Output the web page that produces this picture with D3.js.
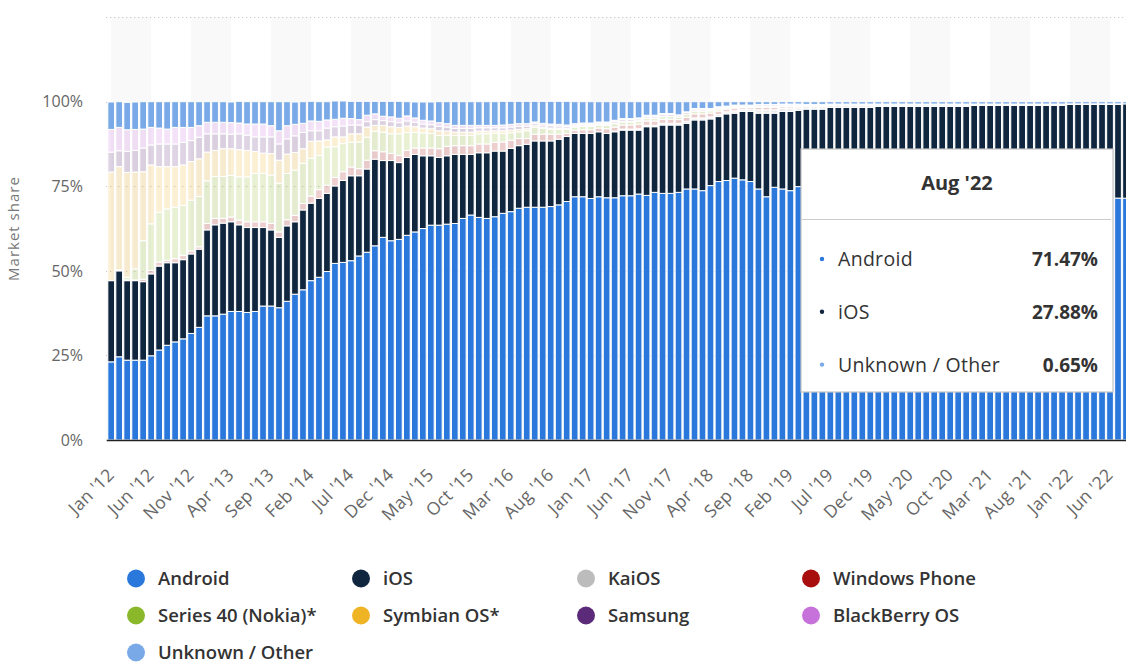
<!DOCTYPE html>
<html>
<head>
<meta charset="utf-8">
<script src="https://cdn.jsdelivr.net/npm/d3@7"></script>
<style>
  body { margin: 0; background: #fff; }
  svg { display: block; font-family: "Open Sans", sans-serif; }
</style>
</head>
<body>
<svg id="chart" width="1126" height="664"></svg>
<script>
// monthly market share (%), Jan 2012 - Aug 2022
const android = [23.1,24.6,23.6,23.6,23.6,24.9,26.6,28.0,29.0,29.9,31.5,33.3,
  36.7,36.7,37.2,38.0,38.0,37.7,38.0,39.6,39.6,39.1,41.0,43.1,
  44.4,47.1,48.1,49.8,52.2,52.5,53.0,54.4,55.5,57.4,59.9,58.9,
  59.3,60.5,61.5,62.5,63.5,63.5,63.8,64.0,65.5,66.5,65.8,65.5,
  66.0,67.0,67.5,68.5,68.8,68.8,68.8,69.0,69.5,70.5,71.9,71.9,
  71.4,71.9,71.6,71.6,72.2,72.2,72.7,72.3,73.2,72.9,72.9,73.2,
  74.2,74.2,73.7,75.2,76.4,76.7,77.4,76.9,76.4,74.2,71.9,74.7,
  74.2,73.7,74.9,75.0,75.3,75.5,76.1,76.2,76.7,76.2,75.9,75.5,
  74.3,73.3,72.6,72.8,72.6,74.6,74.6,74.3,74.4,73.4,71.2,71.9,
  71.9,71.6,72.2,72.2,72.8,72.8,72.8,72.8,72.8,71.3,70.2,69.7,
  69.7,69.7,71.6,71.5,71.7,71.9,71.5,71.47];
const ios = [24.0,25.4,23.5,23.5,23.2,24.2,24.8,24.4,23.4,23.4,23.5,23.1,
  25.4,26.9,26.9,26.5,25.6,25.1,24.8,23.2,22.5,20.8,22.3,21.4,
  23.6,22.9,23.3,23.1,22.9,24.2,25.1,23.7,24.6,25.6,22.7,23.7,
  22.7,23.0,22.9,21.5,20.5,20.0,20.2,20.4,18.9,17.9,19.1,19.4,
  19.4,18.4,18.7,18.5,18.6,19.6,19.6,19.4,19.4,19.2,18.7,18.7,
  19.2,19.2,19.0,19.5,19.4,19.4,18.9,20.3,19.4,20.2,20.2,19.9,
  19.4,20.4,20.9,19.7,19.2,19.7,19.2,20.2,20.7,22.4,24.7,21.9,
  22.9,23.4,22.5,22.8,22.5,22.3,22.2,22.1,21.6,22.1,22.4,22.8,
  24.3,25.3,26.0,25.8,26.0,24.0,24.0,24.3,24.2,25.2,27.4,26.7,
  27.0,27.3,26.7,26.7,26.1,26.1,26.1,26.1,26.1,27.6,28.7,29.2,
  29.5,29.5,27.6,27.7,27.5,27.3,27.7,27.88];
const kaios = [0,0,0,0,0,0,0,0,0,0,0,0,
  0,0,0,0,0,0,0,0,0,0,0,0,
  0,0,0,0,0,0,0,0,0,0,0,0,
  0,0,0,0,0,0,0,0,0,0,0,0,
  0,0,0,0,0,0,0,0,0,0,0,0,
  0,0,0,0.2,0.3,0.3,0.4,0.4,0.4,0.5,0.5,0.5,
  0.6,0.6,0.6,0.6,0.6,0.6,0.7,0.7,0.7,1.0,1.0,1.0,
  0.9,0.9,0.8,0.8,0.8,0.8,0.6,0.6,0.6,0.6,0.6,0.6,
  0.5,0.5,0.5,0.5,0.5,0.5,0.5,0.5,0.5,0.5,0.5,0.5,
  0.3,0.3,0.3,0.3,0.3,0.3,0.3,0.3,0.3,0.3,0.3,0.3,
  0.15,0.15,0.15,0.15,0.15,0.15,0.15,0];
const windowsPhone = [0.1,0.1,0.2,0.2,0.7,1.0,1.2,0.7,1.2,1.3,0.9,0.7,
  1.9,1.9,1.4,1.4,1.4,1.7,1.7,1.7,1.9,1.6,1.8,1.9,
  1.9,2.1,2.6,2.4,2.5,2.6,2.6,2.1,2.6,2.5,2.6,2.1,
  2.1,2.1,1.9,2.3,2.3,2.6,2.8,2.6,2.6,2.6,2.6,2.6,
  2.6,2.7,2.4,2.1,1.7,2.0,2.0,2.0,1.5,0.9,0.9,1.1,
  1.1,1.1,1.4,1.2,1.2,1.2,1.3,1.3,1.3,1.2,1.2,1.1,
  1.2,1.2,1.2,1.1,1.0,0.8,0.8,0.5,0.5,0.7,0.7,0.7,
  0.5,0.5,0.4,0.2,0.2,0.2,0.1,0.1,0.1,0.1,0.1,0.1,
  0.1,0.1,0.1,0.1,0.1,0.1,0.1,0.1,0.1,0.1,0.1,0.1,
  0,0,0,0,0,0,0,0,0,0,0,0,
  0,0,0,0,0,0,0,0];
const series40 = [0,0.2,0.8,3.3,11.4,13.8,14.7,15.2,15.2,14.7,15.0,14.9,
  12.6,12.4,12.4,12.3,12.8,13.3,14.3,14.3,14.3,14.4,13.7,13.4,
  11.9,11.2,10.1,11.3,9.1,8.3,7.3,7.9,6.8,5.8,5.8,5.8,
  6.4,5.3,4.6,4.5,4.3,3.9,3.3,3.0,3.0,3.0,3.0,3.0,
  2.7,2.5,2.2,2.0,2.3,2.0,1.7,1.4,1.4,1.2,1.0,1.0,
  1.0,0.8,1.0,1.0,0.9,0.9,0.9,0.8,0.8,0.8,0.8,0.7,
  0.8,0.8,0.8,0.7,0.6,0.4,0.4,0.3,0.3,0.4,0.4,0.4,
  0.3,0.3,0.3,0.1,0.1,0.1,0.1,0.1,0.1,0.1,0.1,0.1,
  0,0,0,0,0,0,0,0,0,0,0,0,
  0,0,0,0,0,0,0,0,0,0,0,0,
  0,0,0,0,0,0,0,0];
const symbian = [32.0,30.5,31.0,28.6,20.4,17.4,13.5,12.5,12.0,12.0,11.4,11.1,
  8.5,7.7,8.2,7.9,8.0,7.8,6.5,6.0,6.4,6.8,5.7,5.2,
  4.3,5.0,4.3,2.1,2.9,2.0,2.5,2.4,3.0,1.7,2.0,2.1,
  1.9,1.9,1.7,1.4,1.4,1.4,1.2,1.0,1.0,1.0,0.8,0.8,
  0.7,0.8,0.8,0.7,0.6,0.5,0.4,0.4,0.4,0.3,0.2,0.2,
  0.2,0.2,0.2,0.2,0.2,0.2,0.2,0.1,0.1,0.1,0.1,0.1,
  0.1,0.1,0.1,0.1,0.1,0.1,0.1,0,0,0,0,0,
  0,0,0,0,0,0,0,0,0,0,0,0,
  0,0,0,0,0,0,0,0,0,0,0,0,
  0,0,0,0,0,0,0,0,0,0,0,0,
  0,0,0,0,0,0,0,0];
const samsung = [5.9,4.7,6.2,6.4,7.0,5.9,6.7,6.7,6.7,6.7,6.2,6.4,
  5.4,4.9,4.4,4.3,4.7,4.5,4.3,4.8,4.9,4.8,4.5,4.9,
  4.8,3.1,3.0,3.5,3.0,3.2,2.6,2.6,1.6,1.7,1.4,1.5,
  1.4,1.5,1.3,1.2,1.2,1.3,1.2,1.1,1.1,1.1,1.0,1.0,
  0.9,0.9,0.9,0.9,0.8,0.6,0.6,0.7,0.6,0.5,0.4,0.4,
  0.4,0.4,0.4,0.5,0.5,0.5,0.5,0.5,0.5,0.5,0.5,0.4,
  0.5,0.5,0.5,0.4,0.4,0.3,0.3,0.3,0.3,0.4,0.4,0.4,
  0.4,0.4,0.3,0.3,0.3,0.3,0.2,0.2,0.2,0.2,0.2,0.2,
  0.1,0.1,0.1,0.1,0.1,0.1,0.1,0.1,0.1,0.1,0.1,0.1,
  0.1,0.1,0.1,0.1,0.1,0.1,0.1,0.1,0.1,0.1,0.1,0.1,
  0,0,0,0,0,0,0,0];
const blackberry = [6.7,6.9,6.4,6.2,5.6,5.2,4.7,4.4,4.9,4.4,3.9,3.4,
  3.4,3.4,3.4,3.4,3.2,3.3,3.8,3.8,3.3,3.9,3.9,3.4,
  2.7,2.9,2.8,2.4,2.2,2.3,1.9,1.6,1.9,1.7,1.3,1.4,
  1.3,1.5,1.3,1.1,1.1,1.1,1.0,0.9,0.9,0.9,0.7,0.7,
  0.7,0.8,0.8,0.8,0.7,0.5,0.5,0.5,0.5,0.5,0.4,0.4,
  0.4,0.4,0.4,0.3,0.3,0.3,0.3,0.3,0.3,0.3,0.3,0.2,
  0.2,0.2,0.2,0.2,0.2,0.1,0.1,0.1,0.1,0.1,0.1,0.1,
  0.1,0.1,0.1,0,0,0,0,0,0,0,0,0,
  0,0,0,0,0,0,0,0,0,0,0,0,
  0,0,0,0,0,0,0,0,0,0,0,0,
  0,0,0,0,0,0,0,0];
const unknownOther = [8.1,7.6,8.1,8.1,8.1,7.6,7.8,8.1,7.6,7.6,7.6,7.1,
  6.1,6.1,6.1,6.1,6.4,6.6,6.6,6.6,7.1,8.6,7.1,6.6,
  6.4,5.8,5.8,5.4,5.4,5.1,5.1,5.4,4.1,3.7,4.4,4.6,
  5.0,4.2,4.7,5.4,5.6,6.2,6.5,7.0,7.0,7.0,7.0,7.0,
  7.0,7.0,6.8,6.6,6.6,6.1,6.5,6.7,6.8,7.0,6.5,6.3,
  6.3,6.0,6.0,5.5,5.0,5.0,4.8,4.0,4.0,3.5,3.5,3.9,
  3.0,2.0,2.0,2.0,1.5,1.3,1.0,1.0,1.0,0.8,0.8,0.8,
  0.7,0.7,0.7,0.8,0.8,0.8,0.7,0.7,0.7,0.7,0.7,0.7,
  0.7,0.7,0.7,0.7,0.7,0.7,0.7,0.7,0.7,0.7,0.7,0.7,
  0.7,0.7,0.7,0.7,0.7,0.7,0.7,0.7,0.7,0.7,0.7,0.7,
  0.65,0.65,0.65,0.65,0.65,0.65,0.65,0.65];

const seriesNames = ["Android", "iOS", "KaiOS", "Windows Phone", "Series 40 (Nokia)*",
  "Symbian OS*", "Samsung", "BlackBerry OS", "Unknown / Other"];
const seriesValues = [android, ios, kaios, windowsPhone, series40, symbian, samsung, blackberry, unknownOther];
const seriesColors = ["#2b78dd", "#10263f", "#bcbcbc", "#a80e0e", "#8ab82a",
  "#efb426", "#5b2a79", "#c672da", "#79a9e7"];
// series shown in the tooltip keep full colour, the others are dimmed
const activeSeries = ["Android", "iOS", "Unknown / Other"];

const months = d3.timeMonth.range(new Date(2012, 0, 1), new Date(2022, 8, 1));
const categories = months.map(d3.timeFormat("%b '%y"));
const yTicks = [0, 25, 50, 75, 100];
const gridTicks = [25, 50, 75, 100, 125];
const labelStep = 5;

const svg = d3.select("#chart");
const W = 1126, H = 664;
const plotLeft = 107.2, plotRight = 1130, plotBottom = 440;

const x = d3.scaleBand().domain(categories).range([plotLeft, plotRight])
  .paddingInner(0.16).paddingOuter(0.08);
const y = d3.scaleLinear().domain([0, 125]).range([plotBottom, 17.1]);
const cx = c => x(c) + x.bandwidth() / 2;

// table for the stack
const rows = categories.map((c, i) => {
  const r = { cat: c };
  seriesNames.forEach((s, k) => r[s] = seriesValues[k][i]);
  return r;
});
const stacked = d3.stack().keys(seriesNames)(rows);

svg.append("rect").attr("width", W).attr("height", H).attr("fill", "#fff");

// alternate bands between label ticks
const tickCats = categories.filter((c, i) => i % labelStep === 0);
const bands = [];
for (let i = 0; i + 1 < tickCats.length; i += 2) bands.push([tickCats[i], tickCats[i + 1]]);
svg.append("g").selectAll("rect").data(bands).join("rect")
  .attr("x", d => cx(d[0]))
  .attr("width", d => cx(d[1]) - cx(d[0]))
  .attr("y", y(125))
  .attr("height", y(0) - y(125))
  .attr("fill", "#f9f9f9");

// grid
svg.append("g").selectAll("line").data(gridTicks).join("line")
  .attr("x1", plotLeft - 1).attr("x2", W)
  .attr("y1", d => Math.round(y(d)) + 0.5).attr("y2", d => Math.round(y(d)) + 0.5)
  .attr("stroke", "#bbb").attr("stroke-dasharray", "1,3");

// bars
const layer = svg.append("g").selectAll("g").data(stacked).join("g")
  .attr("fill", d => seriesColors[seriesNames.indexOf(d.key)])
  .attr("fill-opacity", d => activeSeries.includes(d.key) ? 1 : 0.2);
layer.selectAll("rect").data(d => d.filter(p => p[1] - p[0] > 0)).join("rect")
  .attr("x", p => x(p.data.cat))
  .attr("width", x.bandwidth())
  .attr("y", p => y(p[1]))
  .attr("height", p => y(p[0]) - y(p[1]))
  .attr("stroke", "#fff")
  .attr("stroke-width", 1);

// axis line
svg.append("line")
  .attr("x1", plotLeft - 0.5).attr("x2", W)
  .attr("y1", plotBottom + 0.5).attr("y2", plotBottom + 0.5)
  .attr("stroke", "#222").attr("stroke-width", 1.5);

// y labels
svg.append("g").selectAll("text").data(yTicks).join("text")
  .attr("x", 83).attr("y", d => y(d)).attr("dy", "0.36em")
  .attr("text-anchor", "end")
  .attr("font-size", 16).attr("fill", "#666")
  .text(d => d + "%");

svg.append("text")
  .attr("transform", `translate(19,${(y(125) + y(0)) / 2}) rotate(-90)`)
  .attr("text-anchor", "middle")
  .attr("font-size", 15).attr("fill", "#777").attr("letter-spacing", 1)
  .text("Market share");

// x labels
svg.append("g").selectAll("text").data(tickCats).join("text")
  .attr("transform", c => `translate(${cx(c) + 4},476) rotate(-45)`)
  .attr("text-anchor", "end")
  .attr("font-size", 17.5).attr("fill", "#666").attr("letter-spacing", 0.3)
  .text(c => c);

// legend
const legend = svg.append("g").selectAll("g").data(seriesNames).join("g")
  .attr("transform", (s, i) => `translate(${136 + (i % 4) * 225},${578.5 + Math.floor(i / 4) * 37})`);
legend.append("circle").attr("r", 9).attr("fill", (s, i) => seriesColors[i]);
legend.append("text")
  .attr("x", 22).attr("dy", "0.34em")
  .attr("font-size", 18.5).attr("font-weight", 600).attr("fill", "#333")
  .text(s => s);

// tooltip for the last month
const last = categories.length - 1;
const tipItems = seriesNames
  .map((s, k) => ({ name: s, color: seriesColors[k], value: seriesValues[k][last] }))
  .filter(d => d.value > 0);
const tip = svg.append("g").attr("transform", "translate(801,149)");
tip.append("rect").attr("width", 312).attr("height", 243)
  .attr("fill", "#fff").attr("stroke", "#c4c4c4").attr("stroke-width", 1.2);
tip.append("text").attr("x", 156).attr("y", 41).attr("text-anchor", "middle")
  .attr("font-size", 20).attr("font-weight", 700).attr("fill", "#333")
  .text(categories[last]);
tip.append("line").attr("x1", 1).attr("x2", 310).attr("y1", 70.5).attr("y2", 70.5)
  .attr("stroke", "#ccc");
const tipRow = tip.selectAll("g.row").data(tipItems).join("g")
  .attr("transform", (d, i) => `translate(0,${117 + i * 52.8})`);
tipRow.append("circle").attr("cx", 21).attr("cy", -7).attr("r", 2.2).attr("fill", d => d.color);
tipRow.append("text").attr("x", 37).attr("font-size", 19.5).attr("fill", "#333")
  .attr("letter-spacing", 0.3).text(d => d.name);
tipRow.append("text").attr("x", 297).attr("text-anchor", "end")
  .attr("font-size", 19).attr("font-weight", 700).attr("fill", "#333")
  .text(d => d3.format(".2f")(d.value) + "%");
</script>
</body>
</html>
